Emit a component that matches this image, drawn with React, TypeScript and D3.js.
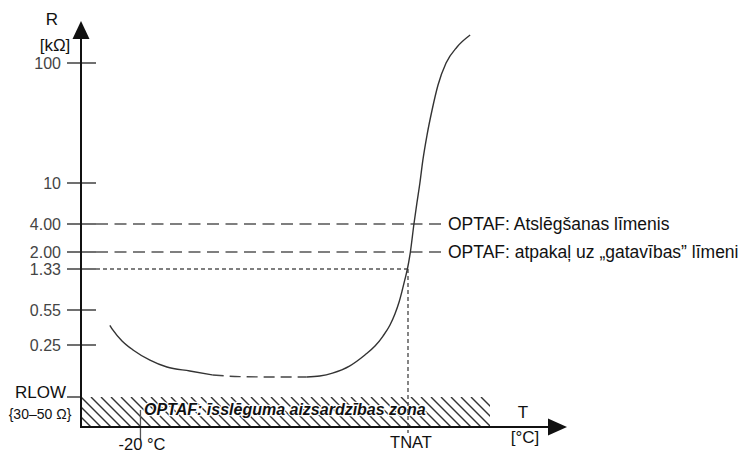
import React from "react";
import * as d3 from "d3";

// ---- data (schematic NTC resistance curve) ----
const yTickLabels = ["100", "10", "4.00", "2.00", "1.33", "0.55", "0.25"];
const yTickValues = [100, 10, 4, 2, 1.33, 0.55, 0.25]; // kΩ
const rLowValue = 0.04; // kΩ (30–50 Ω)
const tnatValue = 70; // °C (schematic)
const minus20Value = -20;

const curveT = [-30.3, -29.3, -26.2, -22.5, -16.8, -11.1, -3.4, 4.3, 13.4, 24.6, 35.9, 40.3, 44.6, 50.3, 55.5, 58.9, 61.6, 63.9, 65.6, 67.0, 68.0, 69.0, 69.8, 70.8, 72.0, 73.0, 74.0, 75.0, 76.4, 78.1, 80.1, 82.8, 86.5, 90.9];
const curveR = [0.39, 0.351, 0.274, 0.21, 0.147, 0.115, 0.1, 0.087, 0.082, 0.081, 0.081, 0.084, 0.093, 0.119, 0.176, 0.241, 0.306, 0.39, 0.502, 0.653, 0.828, 1.073, 1.33, 2.0, 4.0, 6.4, 10, 15.5, 25.1, 40.6, 65.6, 100, 136, 171];
const dashedFromT = 4.3;
const dashedToT = 35.9;

const levelLines = [
  { value: 4, label: "OPTAF: Atslēgšanas līmenis", style: "dash" },
  { value: 2, label: "OPTAF: atpakaļ uz „gatavības” līmeni", style: "dash" },
  { value: 1.33, label: "", style: "dot" },
];
const zoneLabel = "OPTAF: īsslēguma aizsardzības zona";

// ---- layout ----
const W = 744;
const H = 459;
const axisX = 81;
const axisY = 427;
const FONT = "'Liberation Sans', Arial, Helvetica, sans-serif";

const yLevelValues = [...yTickValues, rLowValue];
const yLevelPos = [63, 183, 224, 252, 269, 310, 345, 397];
const yLog = d3.scaleLinear().domain(yLevelValues.map(Math.log10)).range(yLevelPos);
const y = (r: number) => yLog(Math.log10(r));
const x = d3.scaleLinear().domain([-40, tnatValue]).range([axisX, 408]);

export default function App() {
  const pts = curveT.map((t, i) => ({ t, r: curveR[i] }));
  const line = d3
    .line<{ t: number; r: number }>()
    .x((d) => x(d.t))
    .y((d) => y(d.r))
    .curve(d3.curveMonotoneX);
  const seg1 = pts.filter((d) => d.t <= dashedFromT);
  const seg2 = pts.filter((d) => d.t >= dashedFromT && d.t <= dashedToT);
  const seg3 = pts.filter((d) => d.t >= dashedToT);

  const yRLow = y(rLowValue);
  const xTnat = x(tnatValue);
  const x20 = x(minus20Value);
  const hatchRight = 490;
  const hh = axisY - yRLow;
  const hatchXs = d3.range(axisX - hh, hatchRight + 1, 10);

  return (
    <svg
      width={W}
      height={H}
      style={{ position: "absolute", left: 0, top: 0, background: "#fff" }}
      fontFamily={FONT}
    >
      <defs>
        <clipPath id="hatchClip">
          <rect x={axisX} y={yRLow} width={hatchRight - axisX} height={hh} />
        </clipPath>
      </defs>

      {/* hatched zone */}
      <g clipPath="url(#hatchClip)">
        {hatchXs.map((hx) => (
          <line key={hx} x1={hx} y1={yRLow} x2={hx + hh} y2={axisY} stroke="#333" strokeWidth={1.4} />
        ))}
      </g>
      <text
        x={144}
        y={415}
        fontSize={16}
        fontWeight="bold"
        fontStyle="italic"
        fill="#111"
        stroke="#fff"
        strokeWidth={2.5}
        style={{ paintOrder: "stroke" }}
      >
        {zoneLabel}
      </text>

      {/* level lines */}
      {levelLines.map((l) => (
        <g key={l.value}>
          <line
            x1={96}
            x2={l.style === "dot" ? xTnat : 445}
            y1={y(l.value)}
            y2={y(l.value)}
            stroke="#555"
            strokeWidth={1.3}
            strokeDasharray={l.style === "dot" ? "4 3" : "12 6.5"}
          />
          {l.label && (
            <text x={448} y={y(l.value)} dy="0.36em" fontSize={17.5} fill="#111">
              {l.label}
            </text>
          )}
        </g>
      ))}
      {/* TNAT dotted vertical */}
      <line x1={xTnat} x2={xTnat} y1={y(1.33)} y2={433} stroke="#444" strokeWidth={1.3} strokeDasharray="4 3" />

      {/* curve */}
      <path d={line(seg1) || ""} fill="none" stroke="#333" strokeWidth={1.4} />
      <path d={line(seg2) || ""} fill="none" stroke="#444" strokeWidth={1.4} strokeDasharray="11 6" />
      <path d={line(seg3) || ""} fill="none" stroke="#333" strokeWidth={1.4} />

      {/* y ticks */}
      {yTickValues.map((v, i) => (
        <g key={v}>
          <line x1={67} x2={96} y1={y(v)} y2={y(v)} stroke="#222" strokeWidth={1.3} />
          <text x={61} y={y(v)} dy="0.36em" textAnchor="end" fontSize={16} fill="#444">
            {yTickLabels[i]}
          </text>
        </g>
      ))}
      <line x1={67} x2={axisX} y1={yRLow} y2={yRLow} stroke="#222" strokeWidth={1.3} />
      <text x={66} y={398} textAnchor="end" fontSize={17} fill="#111">RLOW</text>
      <text x={40} y={419} textAnchor="middle" fontSize={14} fill="#111">{"{30–50 Ω}"}</text>

      {/* x ticks */}
      <line x1={x20} x2={x20} y1={410} y2={440} stroke="#555" strokeWidth={1.3} />
      <text x={142} y={450} textAnchor="middle" fontSize={16.5} fill="#111">-20 °C</text>
      <text x={411} y={448} textAnchor="middle" fontSize={16.5} fill="#111">TNAT</text>

      {/* axes */}
      <line x1={axisX} x2={axisX} y1={axisY + 1} y2={34} stroke="#111" strokeWidth={2} />
      <path d={`M${axisX},21 L${axisX + 8.5},39 L${axisX - 8.5},39 Z`} fill="#111" />
      <line x1={axisX - 1} x2={552} y1={axisY} y2={axisY} stroke="#111" strokeWidth={2} />
      <path d={`M567,${axisY} L548,${axisY - 8.5} L548,${axisY + 8.5} Z`} fill="#111" />

      {/* axis titles */}
      <text x={52} y={25} textAnchor="middle" fontSize={17} fill="#111">R</text>
      <text x={55} y={51} textAnchor="middle" fontSize={17} fill="#111">[kΩ]</text>
      <text x={523} y={418} textAnchor="middle" fontSize={17} fill="#111">T</text>
      <text x={525} y={443} textAnchor="middle" fontSize={17} fill="#111">[°C]</text>
    </svg>
  );
}
